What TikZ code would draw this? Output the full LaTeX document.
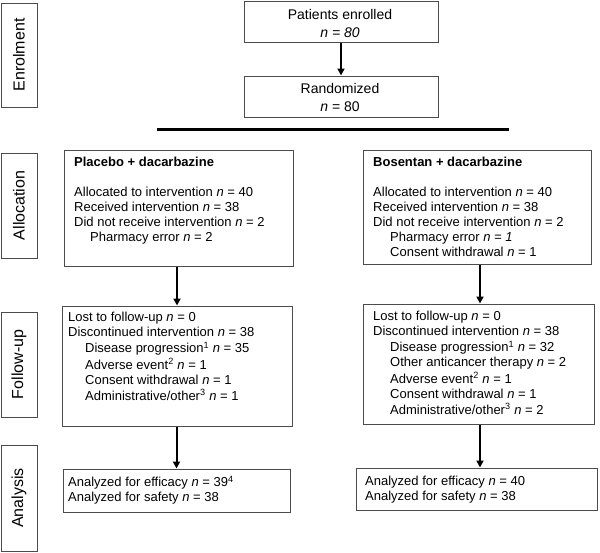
\documentclass[tikz,border=0pt]{standalone}
\usepackage{fontspec}
\setmainfont{Liberation Sans}
\usetikzlibrary{arrows.meta}
\begin{document}
\begin{tikzpicture}[x=1pt,y=-1pt,
  box/.style={draw=black!70, line width=1pt, rectangle, inner sep=0pt},
  lab/.style={inner sep=0pt, font=\fontsize{16}{16}\selectfont, rotate=90},
  txt/.style={inner sep=0pt, anchor=north west, align=left, font=\fontsize{13}{15}\selectfont},
  toptxt/.style={inner sep=0pt, anchor=north, align=center, font=\fontsize{14}{18}\selectfont},
  arr/.style={line width=2pt, -{Triangle[width=7pt,length=7pt]}},
  thick line/.style={line width=3pt}
]
\useasboundingbox (0,0) rectangle (600,552);
% stage labels
\node[box, minimum width=36pt, minimum height=104pt] (enrB) at (19,55) {};
\node[lab] (enrT) at (enrB) {Enrolment};
\node[box, minimum width=36pt, minimum height=105pt] (allB) at (19,205.5) {};
\node[lab] (allT) at (allB) {Allocation};
\node[box, minimum width=36pt, minimum height=105pt] (fupB) at (19,364.5) {};
\node[lab] (fupT) at (fupB) {Follow-up};
\node[box, minimum width=36pt, minimum height=106pt] (anaB) at (19,498) {};
\node[lab] (anaT) at (anaB) {Analysis};
% top boxes
\node[box, minimum width=194pt, minimum height=41pt] (pat) at (341,21.5) {};
\node[toptxt] (patT) at (340,6.4) {\strut Patients enrolled\\\strut\textit{n = 80}};
\node[box, minimum width=194pt, minimum height=41pt] (rand) at (341,96.5) {};
\node[toptxt] (randT) at (340,80.4) {\strut Randomized\\\strut\textit{n} = 80};
\draw[arr] (pat.south) -- (rand.north);
\coordinate (lineL) at (157,129);
\coordinate (lineR) at (509,129);
\draw[thick line] (lineL) -- (lineR);
% allocation boxes
\node[box, minimum width=229pt, minimum height=116pt] (plac) at (178.5,208) {};
\node[txt] (placT) at (74,155.5) {\strut\textbf{Placebo + dacarbazine}\\
\strut\\
\strut Allocated to intervention \textit{n} = 40\\
\strut Received intervention \textit{n} = 38\\
\strut Did not receive intervention \textit{n} = 2\\
\strut\hspace*{16pt}Pharmacy error \textit{n} = 2};
\node[box, minimum width=228pt, minimum height=114pt] (bos) at (477,207) {};
\node[txt] (bosT) at (373,156) {\strut\textbf{Bosentan + dacarbazine}\\
\strut\\
\strut Allocated to intervention \textit{n} = 40\\
\strut Received intervention \textit{n} = 38\\
\strut Did not receive intervention \textit{n} = 2\\
\strut\hspace*{17pt}Pharmacy error \textit{n = 1}\\
\strut\hspace*{17pt}Consent withdrawal \textit{n} = 1};
% follow-up boxes
\node[box, minimum width=230pt, minimum height=120pt] (fuL) at (177,366) {};
\node[txt] (fuLT) at (68,311) {\strut Lost to follow-up \textit{n} = 0\\
\strut Discontinued intervention \textit{n} = 38\\
\strut\hspace*{17pt}Disease progression\textsuperscript{1} \textit{n} = 35\\
\strut\hspace*{17pt}Adverse event\textsuperscript{2} \textit{n} = 1\\
\strut\hspace*{17pt}Consent withdrawal \textit{n} = 1\\
\strut\hspace*{17pt}Administrative/other\textsuperscript{3} \textit{n} = 1};
\node[box, minimum width=231pt, minimum height=120pt] (fuR) at (478.5,364) {};
\node[txt] (fuRT) at (373,310) {\strut Lost to follow-up \textit{n} = 0\\
\strut Discontinued intervention \textit{n} = 38\\
\strut\hspace*{17pt}Disease progression\textsuperscript{1} \textit{n} = 32\\
\strut\hspace*{17pt}Other anticancer therapy \textit{n} = 2\\
\strut\hspace*{17pt}Adverse event\textsuperscript{2} \textit{n} = 1\\
\strut\hspace*{17pt}Consent withdrawal \textit{n} = 1\\
\strut\hspace*{17pt}Administrative/other\textsuperscript{3} \textit{n} = 2};
% analysis boxes
\node[box, minimum width=227pt, minimum height=43pt] (anL) at (176.5,490.5) {};
\node[txt] (anLT) at (68,476) {\strut Analyzed for efficacy \textit{n} = 39\textsuperscript{4}\\
\strut Analyzed for safety \textit{n} = 38};
\node[box, minimum width=241pt, minimum height=42pt] (anR) at (476.5,489) {};
\node[txt] (anRT) at (365,475) {\strut Analyzed for efficacy \textit{n} = 40\\
\strut Analyzed for safety \textit{n} = 38};
% arrows
\coordinate (colR) at (480,0);
\draw[arr] (plac.south -| fuL.north) -- (fuL.north);
\draw[arr] (fuL.south -| anL.north) -- (anL.north);
\draw[arr] (bos.south -| colR) -- (fuR.north -| colR);
\draw[arr] (fuR.south -| colR) -- (anR.north -| colR);
\end{tikzpicture}
\end{document}
